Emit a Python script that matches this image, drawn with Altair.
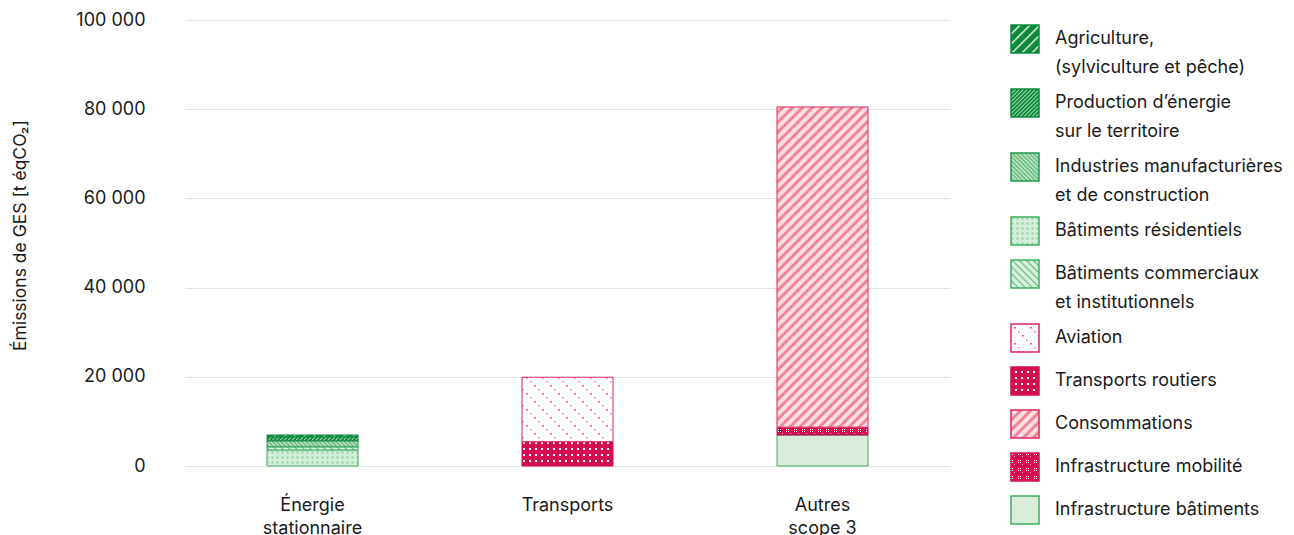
import altair as alt
import pandas as pd

# ---------------- data ----------------
groupes = ["Énergie\nstationnaire"] * 5 + ["Transports"] * 2 + ["Autres\nscope 3"] * 3
secteurs = [
    "Bâtiments résidentiels",
    "Bâtiments commerciaux\net institutionnels",
    "Industries manufacturières\net de construction",
    "Production d’énergie\nsur le territoire",
    "Agriculture,\n(sylviculture et pêche)",
    "Transports routiers",
    "Aviation",
    "Infrastructure bâtiments",
    "Infrastructure mobilité",
    "Consommations",
]
valeurs = [3600, 700, 1350, 900, 400, 5450, 14450, 6950, 1750, 71800]
ordre_pile = [0, 1, 2, 3, 4, 0, 1, 0, 1, 2]

ordre_groupes = ["Énergie\nstationnaire", "Transports", "Autres\nscope 3"]
legende = [
    "Agriculture,\n(sylviculture et pêche)",
    "Production d’énergie\nsur le territoire",
    "Industries manufacturières\net de construction",
    "Bâtiments résidentiels",
    "Bâtiments commerciaux\net institutionnels",
    "Aviation",
    "Transports routiers",
    "Consommations",
    "Infrastructure mobilité",
    "Infrastructure bâtiments",
]
motifs = ["p_agri", "p_prod", "p_indu", "p_resi", "p_comm",
          "p_avia", "p_rout", "p_cons", "p_mobi", "p_bati"]
couleurs_pleines = ["#0b8a3c", "#2f9a55", "#86c995", "#c8e7cf", "#b5dcbf",
                    "#fbe6ec", "#d40d52", "#f4b1bc", "#d8236a", "#d9edda"]
contours = ["#0b8a3c", "#0b8a3c", "#1f9a4c", "#3fae62", "#3fae62",
            "#e0245e", "#d40d52", "#e0245e", "#d40d52", "#3fae62"]

df = pd.DataFrame({"groupe": groupes, "secteur": secteurs,
                   "valeur": valeurs, "ordre": ordre_pile})

FONT = "Inter"
TXT = "#1a1a1a"

PATTERNS = """
<pattern id="p_agri" patternUnits="userSpaceOnUse" width="7" height="7" patternTransform="rotate(45)">
  <rect width="7" height="7" fill="#0b8a3c"/><rect width="1.3" height="7" fill="#ffffff"/></pattern>
<pattern id="p_prod" patternUnits="userSpaceOnUse" width="2.8" height="2.8" patternTransform="rotate(45)">
  <rect width="2.8" height="2.8" fill="#0b8a3c"/><rect width="0.9" height="2.8" fill="#b9e3c3"/></pattern>
<pattern id="p_indu" patternUnits="userSpaceOnUse" width="3" height="3" patternTransform="rotate(-45)">
  <rect width="3" height="3" fill="#cbe9d2"/><rect width="1.4" height="3" fill="#55b46f"/></pattern>
<pattern id="p_resi" patternUnits="userSpaceOnUse" width="5" height="5">
  <rect width="5" height="5" fill="#d5eedb"/><rect x="1.5" y="1.5" width="2" height="2" fill="#8ed19e"/></pattern>
<pattern id="p_comm" patternUnits="userSpaceOnUse" width="5" height="5" patternTransform="rotate(-45)">
  <rect width="5" height="5" fill="#d8efdd"/><rect width="1.1" height="5" fill="#5fb978"/></pattern>
<pattern id="p_avia" patternUnits="userSpaceOnUse" width="16" height="16">
  <rect width="16" height="16" fill="#ffffff"/>
  <rect x="1" y="1" width="1.6" height="1.6" fill="#f08aa6"/>
  <rect x="5" y="5" width="1.6" height="1.6" fill="#e8336a"/>
  <rect x="9" y="9" width="1.6" height="1.6" fill="#f08aa6"/>
  <rect x="13" y="13" width="1.6" height="1.6" fill="#e8336a"/></pattern>
<pattern id="p_rout" patternUnits="userSpaceOnUse" width="6" height="6">
  <rect width="6" height="6" fill="#d40d52"/><rect x="2" y="2" width="2" height="2" fill="#ffffff"/></pattern>
<pattern id="p_cons" patternUnits="userSpaceOnUse" width="7" height="7" patternTransform="rotate(45)">
  <rect width="7" height="7" fill="#fcdde2"/><rect width="3" height="7" fill="#ee8696"/></pattern>
<pattern id="p_mobi" patternUnits="userSpaceOnUse" width="8" height="8">
  <rect width="8" height="8" fill="#d40d52"/>
  <rect x="1" y="1" width="1" height="1" fill="#ffffff"/><rect x="3" y="1" width="1" height="1" fill="#ffffff"/>
  <rect x="1" y="3" width="1" height="1" fill="#ffffff"/><rect x="3" y="3" width="1" height="1" fill="#ffffff"/>
  <rect x="5" y="5" width="1" height="1" fill="#f7a3bd"/></pattern>
<pattern id="p_bati" patternUnits="userSpaceOnUse" width="4" height="4">
  <rect width="4" height="4" fill="#d9edda"/></pattern>
"""

TEMPLATE = """<!DOCTYPE html>
<html>
<head>
  <style>
    #{{ output_div }}.vega-embed { width: 100%; display: flex; }
    #{{ output_div }}.vega-embed details,
    #{{ output_div }}.vega-embed details summary { position: relative; }
  </style>
  <script type="text/javascript" src="{{ base_url }}/vega@{{ vega_version }}"></script>
  <script type="text/javascript" src="{{ base_url }}/vega-lite@{{ vegalite_version }}"></script>
  <script type="text/javascript" src="{{ base_url }}/vega-embed@{{ vegaembed_version }}"></script>
</head>
<body>
  <svg width="0" height="0" style="position:absolute;left:0;top:0" aria-hidden="true"><defs>""" + PATTERNS + """</defs></svg>
  <div id="{{ output_div }}"></div>
  <script>
    (function(vegaEmbed) {
      var spec = {{ spec }};
      var embedOpt = {{ embed_options }};
      function showError(el, error){
        el.innerHTML = '<div style="color:red;"><p>JavaScript Error: ' + error.message + '</p></div>';
        throw error;
      }
      const el = document.getElementById('{{ output_div }}');
      vegaEmbed("#{{ output_div }}", spec, embedOpt).catch(error => showError(el, error));
    })(vegaEmbed);
  </script>
</body>
</html>"""


def build(fill_range):
    leg = alt.Legend(
        title=None, orient="none", legendX=825, legendY=4,
        symbolType="square", symbolSize=784, symbolStrokeWidth=1.5,
        labelFont=FONT, labelFontSize=18, labelColor=TXT,
        labelOffset=15, rowPadding=9, labelLimit=400,
        labelExpr="split(datum.label, '\\n')",
    )
    chart = alt.Chart(df).mark_bar(size=91, strokeWidth=1).encode(
        x=alt.X("groupe:N", sort=ordre_groupes, title=None,
                scale=alt.Scale(paddingInner=0, paddingOuter=0),
                axis=alt.Axis(labelAngle=0, labelFont=FONT, labelFontSize=18,
                              labelColor=TXT, labelPadding=30, ticks=False,
                              domain=False, labelLineHeight=23,
                              labelExpr="split(datum.label, '\\n')")),
        y=alt.Y("valeur:Q", title="Émissions de GES [t éqCO₂]",
                scale=alt.Scale(domain=[0, 100000]),
                axis=alt.Axis(values=[0, 20000, 40000, 60000, 80000, 100000],
                              labelExpr="replace(format(datum.value, ','), ',', ' ')",
                              labelFont=FONT, labelFontSize=18, labelColor=TXT,
                              labelPadding=40, ticks=False, domain=False,
                              gridColor="#e3e3e3", gridWidth=1,
                              titleFont=FONT, titleFontSize=17.5, titleFontWeight="normal",
                              titleColor=TXT, titlePadding=46, titleY=215)),
        fill=alt.Fill("secteur:N", scale=alt.Scale(domain=legende, range=fill_range), legend=leg),
        stroke=alt.Stroke("secteur:N", scale=alt.Scale(domain=legende, range=contours), legend=leg),
        order=alt.Order("ordre:Q", sort="ascending"),
    ).properties(
        width=765, height=446,
        autosize=alt.AutoSizeParams(type="none"),
        padding={"left": 185, "top": 20, "right": 344, "bottom": 69},
    ).configure(
        background="white",
        style={"guide-label": {"lineHeight": 29}},
    ).configure_view(stroke=None)
    return chart


saved = False
try:
    import jinja2
    tpl = jinja2.Template(TEMPLATE)
    chart = build(["url(#%s)" % m for m in motifs])
    chart.save("out.html", embed_options={"renderer": "svg", "actions": False}, template=tpl)
    saved = True
except Exception:
    saved = False

if not saved:
    chart = build(couleurs_pleines)
    chart.save("out.html", embed_options={"renderer": "svg", "actions": False})
